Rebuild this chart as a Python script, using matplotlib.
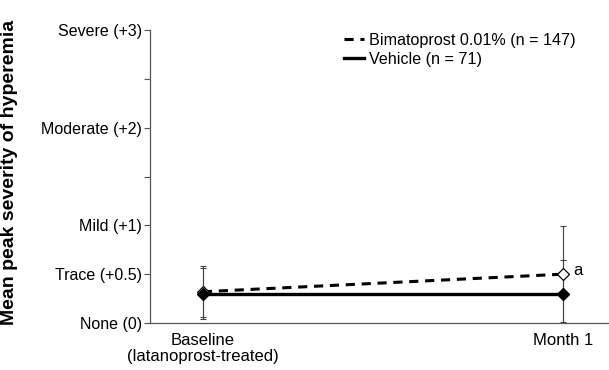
import matplotlib
matplotlib.use("Agg")
import matplotlib.pyplot as plt
from matplotlib.lines import Line2D

timepoints = ["Baseline\n(latanoprost-treated)", "Month 1"]
bim_mean = [0.32, 0.50]
bim_sd = [0.26, 0.49]
veh_mean = [0.30, 0.30]
veh_sd = [0.26, 0.34]
ytick_vals = [0, 0.5, 1, 2, 3]
ytick_labels = ["None (0)", "Trace (+0.5)", "Mild (+1)", "Moderate (+2)", "Severe (+3)"]
minor_vals = [1.5, 2.5]

plt.rcParams['font.family'] = ['Liberation Sans', 'DejaVu Sans']

fig = plt.figure(figsize=(6.09, 3.70), dpi=100)
ax = fig.add_axes([150/609, 47/370, 459/609, 293/370])

x = list(range(len(timepoints)))
ecol = "#444444"
ax.errorbar(x, veh_mean, yerr=veh_sd, fmt="none", ecolor=ecol, elinewidth=0.8, capsize=2.5, capthick=0.8, zorder=2)
ax.errorbar(x, bim_mean, yerr=bim_sd, fmt="none", ecolor=ecol, elinewidth=0.8, capsize=2.5, capthick=0.8, zorder=2)
ax.plot(x, bim_mean, linestyle=(0, (3, 2.2)), color="black", linewidth=2.2, marker="D",
        markersize=6, markerfacecolor="white", markeredgecolor="black", markeredgewidth=0.9, zorder=3)
ax.plot(x, veh_mean, linestyle="-", color="black", linewidth=2.4, marker="D",
        markersize=6, markerfacecolor="black", markeredgecolor="black", zorder=4)

ax.text(x[1] + 0.03, bim_mean[1] + 0.04, "a", fontsize=12, va="center", ha="left")

handles = [Line2D([], [], color="black", linestyle=(0, (3, 2.2)), linewidth=2.2),
           Line2D([], [], color="black", linestyle="-", linewidth=2.4)]
ax.legend(handles, ["Bimatoprost 0.01% (n = 147)", "Vehicle (n = 71)"], loc="upper left",
          bbox_to_anchor=(0.39, 1.04), frameon=False, fontsize=11.6, handlelength=1.25,
          handletextpad=0.35, labelspacing=0.25)

ax.set_xlim(-0.147, 1.128)
ax.set_ylim(0, 3)
ax.set_xticks(x)
ax.set_xticklabels(timepoints, fontsize=12, linespacing=1.08)
ax.set_yticks(ytick_vals)
ax.set_yticklabels(ytick_labels, fontsize=11.5)
ax.set_yticks(minor_vals, minor=True)
ax.tick_params(axis="y", which="both", length=4, width=0.8, color="#555555", pad=2)
ax.tick_params(axis="x", length=0, pad=7)
for s in ["top", "right"]:
    ax.spines[s].set_visible(False)
for s in ["left", "bottom"]:
    ax.spines[s].set_color("#555555")
    ax.spines[s].set_linewidth(0.9)
ax.set_ylabel("Mean peak severity of hyperemia", fontsize=14, fontweight="bold")
ax.yaxis.set_label_coords(-0.288, 0.515)

fig.savefig("out.png", dpi=100)
